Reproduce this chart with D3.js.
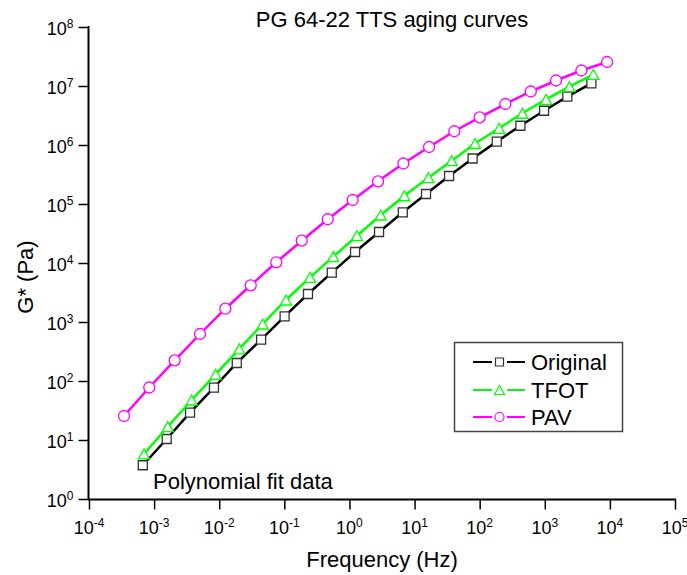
<!DOCTYPE html>
<html>
<head>
<meta charset="utf-8">
<script src="https://cdn.jsdelivr.net/npm/d3@7"></script>
<style>
  body { margin: 0; background: #fff; }
  text { font-family: Arial, "Liberation Sans", sans-serif; fill: #000; }
</style>
</head>
<body>
<div id="root"></div>
<script>
// values
const freqOriginal = [6.7e-4, 1.56e-3, 3.56e-3, 8.3e-3, 1.86e-2, 4.4e-2, 0.101, 0.231, 0.535, 1.22, 2.85, 6.6, 15.0, 33.9, 78, 183, 422, 975, 2220, 5200];
const gOriginal = [3.73, 10.4, 29, 77, 202, 501, 1245, 2985, 6850, 15350, 33500, 72300, 147700, 298000, 590000, 1.14e6, 2.12e6, 3.81e6, 6.59e6, 1.11e7];

const freqTFOT = [7.0e-4, 1.62e-3, 3.77e-3, 8.8e-3, 2.04e-2, 4.66e-2, 0.106, 0.248, 0.566, 1.31, 3.03, 6.97, 16.3, 37.2, 85, 199, 453, 1047, 2390, 5580];
const gTFOT = [5.8, 16.8, 47.6, 130, 349, 925, 2360, 5720, 12800, 29000, 65100, 138000, 279000, 542000, 1.06e6, 1.92e6, 3.45e6, 5.95e6, 9.73e6, 1.58e7];

const freqPAV = [3.45e-4, 8.43e-4, 2.07e-3, 5.07e-3, 1.24e-2, 3.05e-2, 7.53e-2, 0.185, 0.464, 1.12, 2.75, 6.73, 16.7, 40.8, 100, 248, 610, 1490, 3650, 9060];
const gPAV = [25.5, 77.6, 224, 626, 1680, 4190, 10280, 23900, 55100, 117000, 242000, 486000, 925000, 1.71e6, 2.94e6, 4.95e6, 8.07e6, 1.24e7, 1.83e7, 2.55e7];

const seriesNames = ["Original", "TFOT", "PAV"];
const xExponents = [-4, -3, -2, -1, 0, 1, 2, 3, 4, 5];
const yExponents = [0, 1, 2, 3, 4, 5, 6, 7, 8];

const width = 687;
const height = 575;

const svg = d3.select("#root")
  .append("svg")
    .attr("width", width)
    .attr("height", height);

const x = d3.scaleLog().domain([1e-4, 1e5]).range([89, 675]);
const y = d3.scaleLog().domain([1, 1e8]).range([499, 27]);

const minors = (lo, hi) => {
  const out = [];
  for (let e = lo; e < hi; e++) {
    for (let m = 2; m <= 9; m++) out.push(m * Math.pow(10, e));
  }
  return out;
};

// x axis
const xg = svg.append("g").attr("transform", "translate(0,499.5)");
xg.call(d3.axisBottom(x).tickValues(minors(-4, 5)).tickSize(5).tickFormat(""));
xg.call(d3.axisBottom(x).tickValues(xExponents.map(e => Math.pow(10, e))).tickSize(10).tickFormat(""));
xg.selectAll(".domain").remove();
xg.selectAll("line").attr("stroke", "#000").attr("stroke-width", 1.5);
xg.append("line")
    .attr("x1", x(1e-4) - 1).attr("x2", x(1e5) + 1)
    .attr("stroke", "#000").attr("stroke-width", 2);

xExponents.forEach(e => {
  const t = xg.append("text")
      .attr("x", x(Math.pow(10, e)))
      .attr("y", 34)
      .attr("text-anchor", "middle")
      .style("font-size", "18px");
  t.append("tspan").text("10");
  t.append("tspan").attr("dy", -7).style("font-size", "12px").text(e);
});

// y axis
const yg = svg.append("g").attr("transform", "translate(88.5,0)");
yg.call(d3.axisLeft(y).tickValues(minors(0, 8)).tickSize(5).tickFormat(""));
yg.call(d3.axisLeft(y).tickValues(yExponents.map(e => Math.pow(10, e))).tickSize(10).tickFormat(""));
yg.selectAll(".domain").remove();
yg.selectAll("line").attr("stroke", "#000").attr("stroke-width", 1.5);
yg.append("line")
    .attr("y1", y(1e8) - 1).attr("y2", y(1) + 1)
    .attr("stroke", "#000").attr("stroke-width", 2);

yExponents.forEach(e => {
  const t = yg.append("text")
      .attr("x", -15)
      .attr("y", y(Math.pow(10, e)) + 8)
      .attr("text-anchor", "end")
      .style("font-size", "18px");
  t.append("tspan").text("10");
  t.append("tspan").attr("dy", -7).style("font-size", "12px").text(e);
});

// titles
svg.append("text")
    .attr("x", 392).attr("y", 27)
    .attr("text-anchor", "middle")
    .style("font-size", "22px")
    .text("PG 64-22 TTS aging curves");

svg.append("text")
    .attr("x", 382).attr("y", 567)
    .attr("text-anchor", "middle")
    .style("font-size", "22px")
    .text("Frequency (Hz)");

svg.append("text")
    .attr("transform", "translate(33,277) rotate(-90)")
    .attr("text-anchor", "middle")
    .style("font-size", "22px")
    .text("G* (Pa)");

svg.append("text")
    .attr("x", 153).attr("y", 489)
    .style("font-size", "22px")
    .text("Polynomial fit data");

// markers
const square = s => `M${-s / 2},${-s / 2}h${s}v${s}h${-s}Z`;
const triangle = (w, h) => `M0,${-h / 2}L${w / 2},${h / 2}L${-w / 2},${h / 2}Z`;
const circle = r => `M${-r},0a${r},${r} 0 1,0 ${2 * r},0a${r},${r} 0 1,0 ${-2 * r},0Z`;

const series = [
  { name: seriesNames[0], f: freqOriginal, g: gOriginal, color: "#000", mark: "#333", shape: square(9), legendShape: square(8) },
  { name: seriesNames[1], f: freqTFOT, g: gTFOT, color: "#00ff00", mark: "#00ff00", shape: triangle(11, 10), legendShape: triangle(10, 9) },
  { name: seriesNames[2], f: freqPAV, g: gPAV, color: "#ff00ff", mark: "#ff00ff", shape: circle(5.5), legendShape: circle(4.5) }
];

const line = d3.line().x(d => x(d[0])).y(d => y(d[1]));

series.forEach(s => {
  const pts = s.f.map((f, i) => [f, s.g[i]]);
  const grp = svg.append("g");
  grp.append("path")
      .datum(pts)
      .attr("d", line)
      .attr("fill", "none")
      .attr("stroke", s.color)
      .attr("stroke-width", 2.5);
  grp.selectAll("path.mk")
    .data(pts)
    .join("path")
      .attr("class", "mk")
      .attr("transform", d => `translate(${x(d[0])},${y(d[1])})`)
      .attr("d", s.shape)
      .attr("fill", "#fff")
      .attr("stroke", s.mark)
      .attr("stroke-width", 1.3);
});

// legend
const legend = svg.append("g");
legend.append("rect")
    .attr("x", 454.5).attr("y", 342.5)
    .attr("width", 168).attr("height", 89)
    .attr("fill", "#fff")
    .attr("stroke", "#444")
    .attr("stroke-width", 1.5);

const legendRows = [362, 390, 417];
series.forEach((s, i) => {
  const ly = legendRows[i];
  legend.append("line")
      .attr("x1", 473).attr("x2", 492).attr("y1", ly).attr("y2", ly)
      .attr("stroke", s.color).attr("stroke-width", 2);
  legend.append("line")
      .attr("x1", 507).attr("x2", 525).attr("y1", ly).attr("y2", ly)
      .attr("stroke", s.color).attr("stroke-width", 2);
  legend.append("path")
      .attr("transform", `translate(499.5,${ly})`)
      .attr("d", s.legendShape)
      .attr("fill", "#fff")
      .attr("stroke", s.mark)
      .attr("stroke-width", 1.2);
  legend.append("text")
      .attr("x", 531).attr("y", ly + 8)
      .style("font-size", "22px")
      .text(s.name);
});
</script>
</body>
</html>
